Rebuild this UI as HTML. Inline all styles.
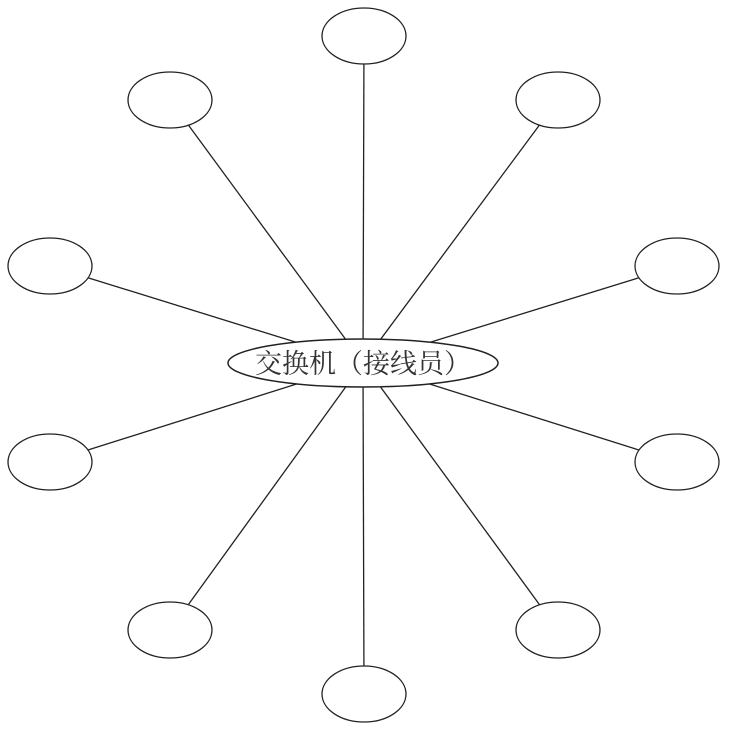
<!DOCTYPE html>
<html><head><meta charset="utf-8"><style>
html,body{margin:0;padding:0;background:#fff;}
svg{display:block;}
</style></head><body>
<svg id="diagram" width="735" height="734" viewBox="0 0 735 734" xmlns="http://www.w3.org/2000/svg"></svg>
<script>
const nodeX = [364, 170, 558, 50, 677, 50, 677, 170, 558, 364];
const nodeY = [36, 100, 100, 266, 266, 462, 462, 630, 630, 694];
const hubLabel = "交换机（接线员）";
const NS = "http://www.w3.org/2000/svg";
const svg = document.getElementById("diagram");
const cx = 363, cy = 363;
const lines = document.createElementNS(NS, "g");


svg.appendChild(lines);
const nodes = document.createElementNS(NS, "g");


svg.appendChild(nodes);
for (let i = 0; i < nodeX.length; i++) {
  const l = document.createElementNS(NS, "line");
  l.setAttribute("x1", nodeX[i]); l.setAttribute("y1", nodeY[i]);
  l.setAttribute("x2", cx); l.setAttribute("y2", cy);
  l.setAttribute("stroke", "#222"); l.setAttribute("stroke-width", "1.3");
  
  
  lines.appendChild(l);
  const e = document.createElementNS(NS, "ellipse");
  e.setAttribute("cx", nodeX[i]); e.setAttribute("cy", nodeY[i]);
  e.setAttribute("rx", 42); e.setAttribute("ry", 28);
  e.setAttribute("fill", "#fff"); e.setAttribute("stroke", "#222"); e.setAttribute("stroke-width", "1.3");
  
  
  nodes.appendChild(e);
}
const hub = document.createElementNS(NS, "ellipse");
hub.setAttribute("cx", cx); hub.setAttribute("cy", cy);
hub.setAttribute("rx", 135); hub.setAttribute("ry", 24);
hub.setAttribute("fill", "#fff"); hub.setAttribute("stroke", "#222"); hub.setAttribute("stroke-width", "1.5");


svg.appendChild(hub);
const t = document.createElementNS(NS, "text");
t.setAttribute("x", cx); t.setAttribute("y", cy + 10);
t.setAttribute("text-anchor", "middle");
t.setAttribute("font-size", "27");
t.setAttribute("fill", "#333");
t.setAttribute("font-family", "'Liberation Serif', 'Noto Serif CJK SC', serif");


t.textContent = hubLabel;
svg.appendChild(t);
</script>
</body></html>
